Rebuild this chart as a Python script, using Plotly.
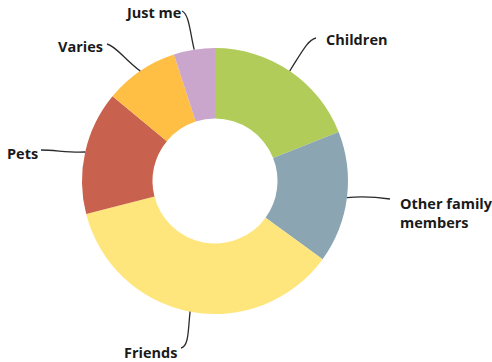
import math
import plotly.graph_objects as go

# Who people share their home with (share of respondents, %)
categories = ["Children", "Other family members", "Friends", "Pets", "Varies", "Just me"]
values = [19, 16, 36, 15, 9, 5]
colors = ["#b2cc5a", "#8ba6b2", "#ffe67c", "#c9614f", "#ffbf45", "#cba6cc"]
label_texts = ["Children", "Other family<br>members", "Friends", "Pets", "Varies", "Just me"]

W, H = 492, 362
CX, CY, R = 215, 181, 133  # donut centre and outer radius, in pixels
HOLE = 0.47


def px(x):
    return x / W


def py(y):
    return 1 - y / H


# Label placement (pixels): anchor x, centre y, horizontal anchor
label_pos = {
    "Children": (324, 40, "left"),
    "Other family members": (398, 213, "left"),
    "Friends": (179, 352, "right"),
    "Pets": (40, 153, "right"),
    "Varies": (105, 46, "right"),
    "Just me": (183, 12, "right"),
}
# Leader line end point and bezier controls (pixels)
leader_shape = {
    "Children": ((316, 38), (303, 50), (308, 40)),
    "Other family members": ((390, 199), (362, 196), (376, 197)),
    "Friends": ((181, 348), (188, 330), (189, 346)),
    "Pets": ((41, 150), (70, 153), (55, 150)),
    "Varies": ((107, 44), (125, 60), (116, 46)),
    "Just me": ((182, 11), (190, 32), (189, 14)),
}

fig = go.Figure()
fig.add_trace(go.Pie(
    labels=categories,
    values=values,
    sort=False,
    direction="clockwise",
    rotation=0,
    hole=HOLE,
    textinfo="none",
    hoverinfo="label+percent",
    marker=dict(colors=colors, line=dict(width=0)),
    domain=dict(x=[px(CX - R), px(CX + R)], y=[py(CY + R), py(CY - R)]),
    showlegend=False,
))

total = sum(values)
cum = 0.0
shapes = []
annotations = []
for cat, val, txt in zip(categories, values, label_texts):
    mid = (cum + val / 2) / total * 2 * math.pi
    cum += val
    sx = CX + R * math.sin(mid)
    sy = CY - R * math.cos(mid)
    (ex, ey), (c1x, c1y), (c2x, c2y) = leader_shape[cat]
    path = (f"M {px(sx)} {py(sy)} C {px(c1x)} {py(c1y)}, "
            f"{px(c2x)} {py(c2y)}, {px(ex)} {py(ey)}")
    shapes.append(dict(type="path", xref="paper", yref="paper", path=path,
                       line=dict(color="#2b2b2b", width=1.3)))
    lx, ly, anchor = label_pos[cat]
    annotations.append(dict(
        x=px(lx), y=py(ly), xref="paper", yref="paper",
        text=txt, showarrow=False, xanchor=anchor, yanchor="middle",
        align="left",
        font=dict(family="Open Sans", size=14.5, color="#1a1a1a", weight=700),
    ))

fig.update_layout(
    width=W, height=H,
    margin=dict(l=0, r=0, t=0, b=0),
    paper_bgcolor="white",
    plot_bgcolor="white",
    shapes=shapes,
    annotations=annotations,
)

fig.write_html("out.html")
